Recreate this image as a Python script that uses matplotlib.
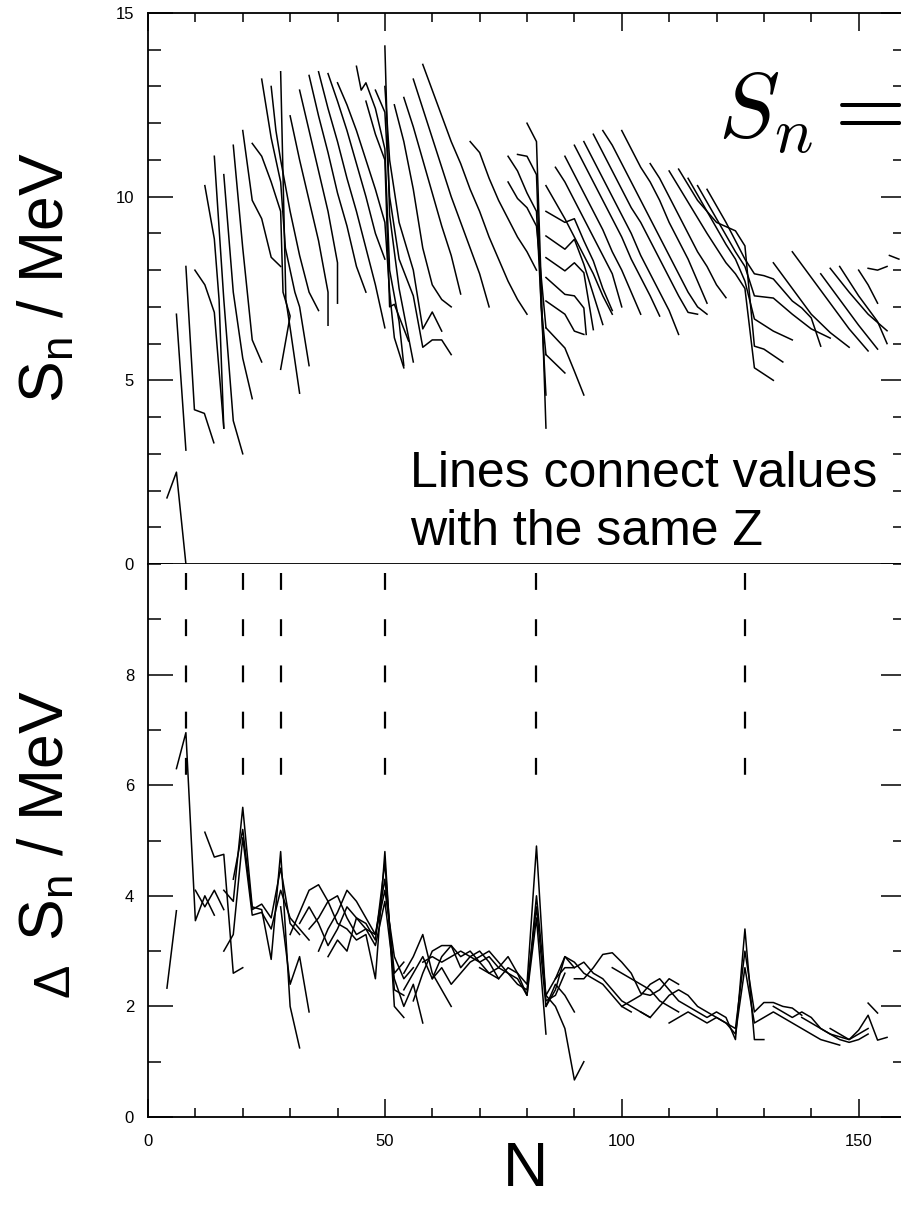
import matplotlib
matplotlib.use("Agg")
import matplotlib.pyplot as plt
from matplotlib.ticker import MultipleLocator

plt.rcParams['font.family'] = ['Liberation Sans', 'DejaVu Sans']

# S_n lines, one per Z: (N, S_n / MeV) vertices
sn_light = [
    [(4, 1.8), (6, 2.5), (8, 0.0)],
    [(6, 6.8), (8, 3.1)],
    [(8, 8.1), (9.8, 4.2), (11.9, 4.1), (13.9, 3.3)],
    [(9.9, 8.0), (12, 7.6), (14, 6.85), (16, 3.7)],
    [(12, 10.3), (14, 8.85), (15, 7.2), (16, 3.7)],
    [(14, 11.1), (16, 7.2), (18, 3.9), (20, 3.0)],
    [(16, 10.6), (18, 7.4), (20, 5.6), (22, 4.5)],
    [(18, 11.4), (20, 8.6), (22, 6.1), (24, 5.5)],
    [(20, 11.8), (22, 9.9), (24, 9.4), (26, 8.35), (28, 8.1)],
    [(22, 11.45), (24, 11.1), (26, 10.4), (28, 9.6), (28.5, 7.4), (30, 6.75), (28, 5.3)],
]
sn_mid = [
    [(24, 13.2), (26, 11.6), (28, 10.4), (29, 8.6), (31, 7.4), (32, 7.0), (34, 5.4)],
    [(26, 13.0), (27, 11.8), (28, 11.0), (30, 9.6), (32, 8.4), (34, 7.4), (36, 6.9)],
    [(28, 13.4), (29.1, 7.2), (30.1, 6.34), (32, 4.65)],
    [(30, 12.2), (32, 11.0), (34, 9.9), (36, 8.8), (38, 7.4), (38, 6.5)],
    [(32, 12.9), (34, 11.8), (36, 10.7), (38, 9.6), (40, 8.2), (40, 7.1)],
    [(34, 13.3), (36, 12.2), (38, 11.2), (40, 10.1), (42, 9.2), (44, 8.1), (46, 7.4)],
    [(36, 13.4), (38, 12.4), (40, 11.5), (42, 10.5), (44, 9.6), (46, 8.6), (48, 7.6), (50, 6.43)],
    [(38, 13.35), (40, 12.6), (42, 11.8), (44, 10.9), (46, 10.0), (48, 9.0), (50, 8.3)],
    [(40, 13.1), (42, 12.5), (44, 11.8), (46, 11.0), (48, 10.2), (50, 9.3), (51, 7.4), (52, 6.16), (54, 5.34)],
    [(44, 13.55), (45, 12.9), (46, 13.1), (48, 12.4), (50, 11.3), (51, 8.0), (53, 6.6), (54, 5.4)],
    [(46, 12.6), (48, 11.7), (50, 11.0), (51, 7.0), (52, 7.07), (55, 6.07)],
    [(50, 14.1), (51, 9.5), (53, 7.5), (56, 5.5)],
    [(48, 12.9), (50, 12.3), (51, 10.0), (53, 8.3), (56, 7.3), (58, 5.9), (60, 6.1), (62, 6.1), (64, 5.7)],
    [(50, 13.0), (51, 11.0), (53, 9.3), (56, 8.0), (58, 6.4), (60, 6.86), (62, 6.34)],
]
sn_n50 = [
    [(52, 12.5), (54, 11.5), (56, 10.2), (58, 8.6), (60, 7.6), (62, 7.2), (64, 7.0)],
    [(54, 12.7), (56, 11.9), (58, 11.0), (60, 10.1), (62, 9.2), (64, 8.4), (66, 7.35)],
    [(56, 13.2), (58, 12.4), (60, 11.6), (62, 10.8), (64, 10.0), (66, 9.3), (68, 8.6), (70, 7.9), (72, 7.0)],
    [(58, 13.6), (60, 12.9), (62, 12.2), (64, 11.5), (66, 10.9), (68, 10.2), (70, 9.6), (72, 8.9),
     (74, 8.3), (76, 7.7), (78, 7.2), (80, 6.8)],
    [(68, 11.5), (70, 11.2), (72, 10.5), (74, 9.9), (76, 9.4), (78, 8.9), (80, 8.5), (82, 8.0)],
    [(76, 11.1), (78, 10.7), (80, 10.1), (82, 9.6), (83, 7.0), (84, 5.7)],
    [(76, 10.4), (78, 9.95), (80, 9.7), (82, 9.2), (84, 6.43)],
    [(78, 11.15), (80, 11.1), (82, 10.6), (83, 7.0), (84, 4.6)],
    [(80, 12.0), (82, 11.5), (84, 3.7)],
]
sn_n82 = [
    [(84, 10.3), (86, 9.85), (88, 9.4), (90, 8.9), (92, 8.4), (94, 7.9), (96, 7.3), (98, 6.8)],
    [(84, 9.6), (88, 9.3), (90, 9.4), (92, 8.8), (94, 8.25), (96, 7.5), (98, 6.9)],
    [(84, 8.93), (88, 8.57), (90, 8.84), (92, 8.16), (94, 7.34), (96, 6.52)],
    [(84, 8.34), (88, 7.98), (90, 8.2), (92, 7.93), (94, 6.38)],
    [(84, 7.8), (88, 7.34), (90, 7.3), (92, 6.97), (92.5, 6.25)],
    [(84, 7.16), (88, 6.8), (90, 6.34), (92, 6.25)],
    [(84, 6.43), (88, 5.88), (90, 5.25), (92, 4.6)],
    [(84, 5.7), (88, 5.2)],
    [(86, 10.8), (88, 10.4), (90, 9.9), (92, 9.4), (94, 8.9), (96, 8.4), (98, 7.9), (100, 7.0)],
    [(88, 11.1), (90, 10.6), (92, 10.1), (94, 9.6), (96, 9.1), (98, 8.5), (100, 8.0), (102, 7.4), (104, 6.8)],
    [(90, 11.4), (92, 10.9), (94, 10.4), (96, 9.9), (98, 9.4), (100, 8.9), (102, 8.3), (104, 7.8),
     (106, 7.3), (108, 6.75)],
    [(92, 11.5), (94, 11.0), (96, 10.5), (98, 10.0), (100, 9.5), (102, 9.0), (104, 8.4), (106, 7.9),
     (108, 7.4), (110, 6.9), (112, 6.25)],
    [(94, 11.7), (96, 11.2), (98, 10.7), (100, 10.2), (102, 9.7), (104, 9.3), (106, 8.8), (108, 8.3),
     (110, 7.8), (112, 7.3), (114, 6.85), (116, 6.8)],
    [(96, 11.8), (98, 11.4), (100, 10.9), (102, 10.4), (104, 9.9), (106, 9.4), (108, 8.9), (110, 8.4),
     (112, 7.9), (114, 7.4), (116, 7.0), (118, 6.8)],
    [(100, 11.8), (102, 11.3), (104, 10.8), (106, 10.4), (108, 9.9), (110, 9.3), (112, 8.8), (114, 8.3),
     (116, 7.7), (118, 7.1)],
    [(106, 10.9), (108, 10.5), (110, 10.0), (112, 9.5), (114, 9.0), (116, 8.5), (118, 8.1), (120, 7.6),
     (122, 7.25)],
]
sn_n126 = [
    [(110, 10.7), (114, 9.85), (118, 9.0), (122, 8.2), (124, 7.9), (126, 7.5), (128, 5.34), (132, 5.0)],
    [(112, 10.75), (116, 9.9), (120, 9.3), (124, 9.07), (126, 8.66), (128, 5.93), (130, 5.85), (134, 5.5)],
    [(114, 10.5), (118, 9.6), (122, 8.7), (124, 8.3), (126, 7.7), (128, 6.67), (132, 6.34), (136, 6.1)],
    [(116, 10.3), (120, 9.4), (124, 8.5), (126, 8.1), (128, 7.3), (132, 7.24), (136, 6.8), (140, 6.4),
     (144, 6.15)],
    [(118, 10.2), (122, 9.3), (124, 8.8), (126, 8.3), (128, 7.9), (130, 7.85), (132, 7.76), (136, 7.16),
     (138, 6.97), (140, 6.7), (142, 5.93)],
    [(132, 8.2), (136, 7.5), (140, 6.8), (144, 6.3), (148, 5.9)],
    [(136, 8.5), (140, 7.8), (144, 7.1), (148, 6.4), (152, 5.8)],
    [(142, 7.9), (146, 7.2), (150, 6.5), (154, 5.85)],
    [(144, 8.05), (148, 7.4), (152, 6.8), (156, 6.35)],
    [(146, 8.1), (150, 7.3), (154, 6.6), (156, 6.0)],
    [(150, 8.0), (152, 7.6), (154, 7.1)],
    [(152, 8.05), (154, 8.0), (156, 8.1)],
    [(156.5, 8.4), (158.5, 8.3)],
]

# Delta S_n lines, one per Z
dsn_light = [
    [(4, 2.33), (6, 3.73)],
    [(6, 6.3), (8, 6.95), (10, 3.55), (12, 4.0), (14, 3.65)],
    [(10, 4.1), (12, 3.8), (14, 4.1), (16, 3.75)],
    [(12, 5.15), (14, 4.7), (16, 4.75), (18, 2.6), (20, 2.7)],
    [(16, 4.1), (18, 3.9), (20, 5.6), (22, 3.8), (24, 3.75), (26, 2.85), (28, 4.8), (30, 2.0), (32, 1.25)],
    [(18, 4.3), (20, 5.2), (22, 3.75), (24, 3.85), (26, 3.6), (28, 4.5), (30, 3.5), (32, 3.3)],
    [(16, 3.0), (18, 3.3), (20, 5.05), (22, 3.65), (24, 3.7), (26, 3.4), (28, 4.1), (30, 3.6), (32, 3.4),
     (34, 3.2)],
    [(28, 3.8), (30, 2.4), (32, 2.9), (34, 1.9)],
]
dsn_mid = [
    [(30, 3.3), (32, 3.7), (34, 4.1), (36, 4.2), (38, 3.9), (40, 3.5), (42, 3.4), (44, 3.2), (46, 3.3),
     (48, 2.5), (50, 4.8), (52, 2.0), (54, 1.8)],
    [(32, 3.5), (34, 3.8), (36, 3.5), (38, 3.1), (40, 3.4), (42, 3.8), (44, 3.6), (46, 3.5), (48, 3.2),
     (50, 4.6), (52, 2.3), (54, 2.2)],
    [(34, 3.4), (36, 3.6), (38, 3.9), (40, 4.0), (42, 3.6), (44, 3.3), (46, 3.4), (48, 3.3), (50, 4.3),
     (52, 2.6), (54, 2.8)],
    [(36, 3.0), (38, 3.4), (40, 3.7), (42, 4.1), (44, 3.9), (46, 3.6), (48, 3.3), (50, 4.1), (52, 2.9),
     (54, 2.5), (56, 2.7)],
    [(38, 2.9), (40, 3.2), (42, 3.0), (44, 3.6), (46, 3.4), (48, 3.1), (50, 3.9), (52, 2.5), (54, 2.0),
     (56, 2.4), (58, 1.7)],
]
dsn_n50 = [
    [(54, 2.6), (56, 2.9), (58, 3.3), (60, 2.6), (62, 2.3), (64, 2.0)],
    [(54, 2.3), (56, 2.6), (58, 2.9), (60, 2.5), (62, 2.9), (64, 3.1), (66, 2.7), (68, 2.9), (70, 3.0),
     (72, 2.8), (74, 2.5)],
    [(56, 2.1), (58, 2.6), (60, 3.0), (62, 3.1), (64, 3.1), (66, 2.9), (68, 3.0), (70, 2.8), (72, 2.6),
     (74, 2.7), (76, 2.9), (78, 2.6), (80, 2.4), (82, 4.9), (84, 2.1), (86, 2.2), (88, 2.6)],
    [(58, 2.8), (60, 2.9), (62, 2.8), (64, 2.9), (66, 3.0), (68, 2.9), (70, 2.8), (72, 2.9), (74, 2.7),
     (76, 2.6), (78, 2.5), (80, 2.2), (82, 4.0), (84, 2.2), (86, 2.5), (88, 2.9), (90, 2.7)],
    [(60, 2.5), (62, 2.7), (64, 2.4), (66, 2.6), (68, 2.8), (70, 2.9), (72, 3.0), (74, 2.8), (76, 2.6),
     (78, 2.4), (80, 2.3), (82, 3.8), (84, 2.0), (86, 2.4), (88, 2.2), (90, 1.9)],
    [(70, 2.7), (72, 2.6), (74, 2.5), (76, 2.7), (78, 2.6), (80, 2.2), (82, 3.6), (84, 1.5)],
]
dsn_n82 = [
    [(84, 2.0), (86, 2.3), (88, 2.9), (90, 2.8), (92, 2.6), (94, 2.5), (96, 2.4), (98, 2.2), (100, 2.0),
     (102, 1.9)],
    [(84, 2.2), (86, 2.0), (88, 1.6), (90, 0.67), (92, 1.0)],
    [(86, 2.5), (88, 2.7), (90, 2.7), (92, 2.8), (94, 2.6), (96, 2.5), (98, 2.3), (100, 2.1), (102, 2.0),
     (104, 1.9), (106, 1.8)],
    [(90, 2.5), (92, 2.5), (94, 2.7), (96, 2.94), (98, 2.97), (100, 2.8), (102, 2.6), (104, 2.24),
     (106, 2.2), (108, 2.3), (110, 2.5), (112, 2.4)],
    [(98, 2.7), (100, 2.6), (102, 2.5), (104, 2.4), (106, 2.3), (108, 2.1), (110, 2.0), (112, 1.9)],
    [(100, 2.0), (102, 2.1), (104, 2.2), (106, 2.4), (108, 2.5), (110, 2.3), (112, 2.1), (114, 2.0),
     (116, 1.9), (118, 1.8), (120, 1.9), (122, 1.8), (124, 1.4), (126, 3.4), (128, 1.4), (130, 1.4)],
    [(104, 1.9), (106, 1.8), (108, 2.0), (110, 2.2), (112, 2.3), (114, 2.2), (116, 2.0), (118, 1.9),
     (120, 1.8), (122, 1.7), (124, 1.6), (126, 3.0), (128, 1.9), (130, 2.07), (132, 2.07), (134, 2.0),
     (136, 1.97), (138, 1.84)],
    [(110, 1.7), (112, 1.8), (114, 1.9), (116, 1.8), (118, 1.7), (120, 1.8), (122, 1.7), (124, 1.5),
     (126, 2.7), (128, 1.7), (130, 1.8), (132, 1.9), (134, 1.8), (136, 1.7), (138, 1.6), (140, 1.5),
     (142, 1.4), (144, 1.35), (146, 1.3)],
]
dsn_n126 = [
    [(132, 2.0), (134, 1.9), (136, 1.8), (138, 1.9), (140, 1.8), (142, 1.6), (144, 1.5), (146, 1.4),
     (148, 1.35), (150, 1.4), (152, 1.5)],
    [(138, 1.8), (140, 1.7), (142, 1.6), (144, 1.5), (146, 1.45), (148, 1.4), (150, 1.57), (152, 1.84),
     (154, 1.39), (156, 1.44)],
    [(144, 1.6), (146, 1.5), (148, 1.4), (150, 1.5), (152, 1.6)],
    [(152, 2.06), (154, 1.88)],
]

# magic numbers marked in the lower panel
magic_n = [8, 20, 28, 50, 82, 126]

fig = plt.figure(figsize=(9.01, 12.26), dpi=100)
ax1 = fig.add_axes([148 / 901, 1 - 564 / 1226, 758 / 901, 551 / 1226])
ax2 = fig.add_axes([148 / 901, 1 - 1117 / 1226, 758 / 901, 553 / 1226])

for group in (sn_light, sn_mid, sn_n50, sn_n82, sn_n126):
    for line in group:
        ax1.plot([p[0] for p in line], [p[1] for p in line], color='black', lw=1.1)

for group in (dsn_light, dsn_mid, dsn_n50, dsn_n82, dsn_n126):
    for line in group:
        ax2.plot([p[0] for p in line], [p[1] for p in line], color='black', lw=1.1)

for n in magic_n:
    ax2.plot([n, n], [9.84, 6.0], color='black', lw=1.6, linestyle=(0, (7.6, 13.2)))

ax1.set_xlim(0, 160)
ax1.set_ylim(0, 15)
ax2.set_xlim(0, 160)
ax2.set_ylim(0, 10)

for ax in (ax1, ax2):
    for s in ax.spines.values():
        s.set_linewidth(1.3)
    ax.xaxis.set_major_locator(MultipleLocator(50))
    ax.xaxis.set_minor_locator(MultipleLocator(10))
    ax.tick_params(which='both', direction='in', width=1.1, labelsize=12, right=True)
    ax.tick_params(axis='x', which='major', length=13)
    ax.tick_params(axis='x', which='minor', length=6.5)
    ax.tick_params(axis='y', which='major', length=18, pad=10)
    ax.tick_params(axis='y', which='minor', length=9.4)

ax1.yaxis.set_major_locator(MultipleLocator(5))
ax1.yaxis.set_minor_locator(MultipleLocator(1))
ax1.tick_params(axis='x', which='both', top=True, bottom=False, labelbottom=False)
ax2.yaxis.set_major_locator(MultipleLocator(2))
ax2.yaxis.set_minor_locator(MultipleLocator(1))
ax2.set_yticks([0, 2, 4, 6, 8])
ax2.tick_params(axis='x', which='both', top=False, bottom=True, pad=12)
ax2.spines['top'].set_visible(False)

fig.text(47 / 901, 1 - 278 / 1226, r'S$_\mathregular{n}$ / MeV', rotation=90,
         fontsize=45, ha='center', va='center')
fig.text(47 / 901, 1 - 816 / 1226, r'S$_\mathregular{n}$ / MeV', rotation=90,
         fontsize=45, ha='center', va='center')
fig.text(55 / 901, 1 - 980 / 1226, '\u0394', rotation=90,
         fontsize=36, ha='center', va='center')
fig.text(525 / 901, 1 - 1170 / 1226, 'N', fontsize=45, ha='center', va='center')

fig.text(410 / 901, 1 - 487 / 1226, 'Lines connect values', fontsize=36,
         ha='left', va='baseline')
fig.text(410 / 901, 1 - 545 / 1226, 'with the same Z', fontsize=36,
         ha='left', va='baseline')
# the equation runs past the right edge in the original as well
fig.text(718 / 901, 1 - 137 / 1226, r'$S_n =$', math_fontfamily='cm',
         fontsize=66, ha='left', va='baseline')

fig.savefig('out.png', dpi=100)
